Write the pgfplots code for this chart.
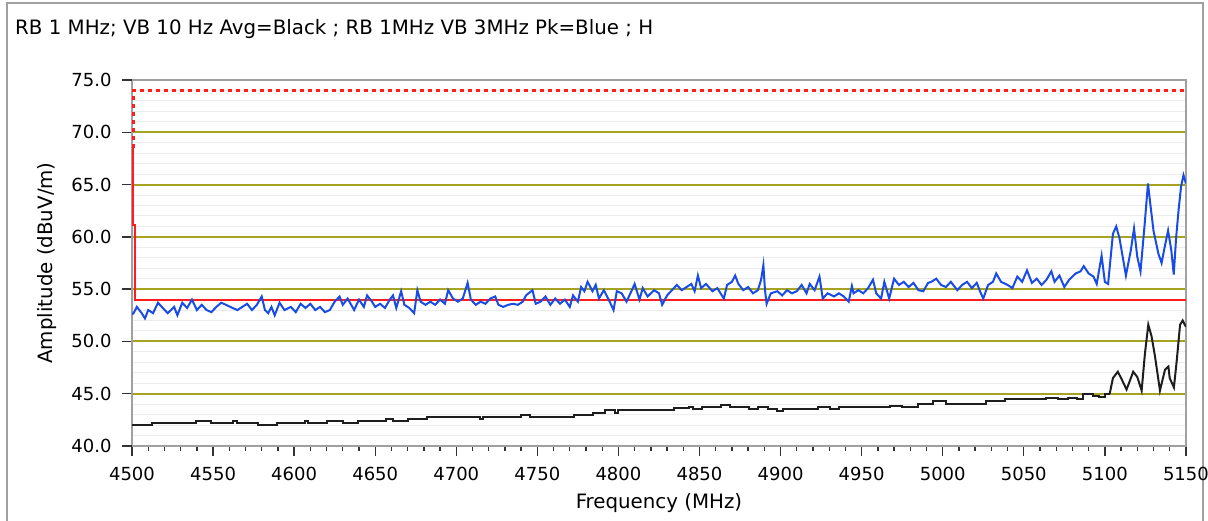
\documentclass[border=0pt]{standalone}
\usepackage{fontspec}
\setmainfont{DejaVu Sans}
\usepackage{pgfplots}
\pgfplotsset{compat=1.18}

\definecolor{pkblue}{RGB}{25,75,230}
\definecolor{avgblack}{RGB}{30,30,30}
\definecolor{limred}{RGB}{255,30,30}
\definecolor{gridolive}{RGB}{168,162,35}
\definecolor{gridlight}{RGB}{236,236,236}
\definecolor{framegray}{RGB}{160,160,160}

\newcommand{\tickfont}{\fontsize{18}{21}\selectfont}
\newcommand{\labelfont}{\fontsize{19.8}{23}\selectfont}

\begin{document}
\begin{tikzpicture}
\useasboundingbox (0pt,0pt) rectangle (1208pt,521pt);
\draw[framegray, line width=1.5pt] (7pt,-2pt) -- (7pt,518pt) -- (1203pt,518pt) -- (1203pt,-2pt);
\node[anchor=base west, font=\labelfont, inner sep=0pt] at (15pt,486pt)
  {RB 1 MHz; VB 10 Hz Avg=Black ; RB 1MHz VB 3MHz Pk=Blue ; H};

\begin{axis}[
  at={(132pt,75pt)}, anchor=south west,
  scale only axis, width=1054pt, height=366pt,
  xmin=4500, xmax=5150, ymin=40, ymax=75,
  xtick distance=50, minor x tick num=4,
  ytick={45,50,55,60,65,70},
  minor ytick={41,42,...,74},
  extra y ticks={40,75},
  extra y tick labels={40.0,75.0},
  extra y tick style={grid=none},
  tick pos=left,
  ymajorgrids, yminorgrids,
  minor grid style={draw=gridlight, line width=1pt},
  major grid style={draw=gridolive, line width=2pt},
  tick align=outside,
  major tick length=10pt, minor tick length=5pt,
  tick style={black!80, line width=1.4pt},
  minor y tick style={draw=none},
  axis line style={draw=framegray, line width=1.5pt},
  scaled x ticks=false,
  /pgf/number format/assume math mode=true,
  xticklabel style={/pgf/number format/1000 sep={}, yshift=-8pt},
  yticklabel style={/pgf/number format/fixed, /pgf/number format/fixed zerofill,
    /pgf/number format/precision=1, xshift=-7pt},
  tick label style={font=\tickfont},
  label style={font=\labelfont},
  xlabel={Frequency (MHz)},
  ylabel={Amplitude (dBuV/m)},
  xlabel style={at={(axis description cs:0.5,-0.1557)}, anchor=center},
  ylabel style={at={(axis description cs:-0.0806,0.5)}, anchor=center},
  clip=true,
]

% limit lines
\addplot[limred, line width=2pt, sharp plot] coordinates {
(4500.8,68.5) (4500.8,61.1) (4501.8,61.1) (4501.8,54) (5150,54)};
\addplot[limred, line width=3pt, dash pattern=on 4pt off 4pt, sharp plot] coordinates {
(4500.8,68.5) (4500.8,74) (5150,74)};

% average (black), stepped part
\addplot[avgblack, line width=2pt, const plot] coordinates {
(4500,42.0) (4512.3,42.2) (4539.3,42.4) (4548.9,42.2) (4562.4,42.4) (4565,42.2)
(4577.8,42.0) (4589.4,42.2) (4606.7,42.4) (4608.7,42.2) (4620.2,42.4) (4629.9,42.2)
(4639.5,42.4) (4656.9,42.6) (4660.7,42.4) (4670.3,42.6) (4681.9,42.8) (4714.7,42.6)
(4716.6,42.8) (4739.7,43.0) (4745.5,42.8) (4772.5,43.0) (4784.1,43.2) (4791.8,43.4)
(4797.6,43.2) (4799.5,43.4) (4834.2,43.6) (4843.8,43.7) (4845.8,43.5) (4851.5,43.7)
(4863.1,43.9) (4868.9,43.7) (4880.4,43.5) (4886.2,43.7) (4892.0,43.5) (4897.8,43.3)
(4901.6,43.5) (4922.9,43.7) (4930.6,43.5) (4936.3,43.7) (4967.2,43.8) (4974.9,43.7)
(4984.5,44.0) (4994.2,44.3) (5001.9,44.0) (5026.9,44.3) (5038.5,44.5) (5063.6,44.6)
(5071.3,44.5) (5077.1,44.6) (5082.8,44.5) (5086.7,45.0) (5092.5,44.8) (5096.3,44.7)
(5100.2,45.0) (5103,45.0)};
% average (black), oscillating part
\addplot[avgblack, line width=2pt, sharp plot] coordinates {
(5103,45.0) (5105,46.5) (5108,47.1) (5110,46.5) (5113.4,45.4) (5117.5,47.1)
(5120,46.6) (5122.7,45.3) (5124.7,48.8) (5126.8,51.6) (5128.8,50.5) (5130.9,48.6)
(5134,45.3) (5137.1,47.3) (5139.2,47.6) (5140,46.5) (5142.6,45.6) (5144.3,48.1)
(5146.4,51.6) (5148,52.0) (5150,51.4)};

% peak (blue)
\addplot[pkblue, line width=2pt, sharp plot] coordinates {
(4500,52.6) (4501,52.7) (4503,53.3) (4506,52.7) (4508,52.2) (4510,53.0) (4513,52.7)
(4516,53.7) (4519,53.2) (4522,52.7) (4526,53.3) (4528,52.5) (4531,53.7) (4534,53.2)
(4537,54.0) (4540,53.0) (4543,53.5) (4546,53.0) (4549,52.8) (4552,53.3) (4555,53.7)
(4558,53.5) (4562,53.2) (4565,53.0) (4568,53.3) (4571,53.6) (4574,53.0) (4577,53.5)
(4580,54.3) (4582,53.0) (4584,52.7) (4586,53.3) (4588,52.5) (4591,53.7) (4594,53.0)
(4598,53.3) (4601,52.8) (4604,53.6) (4607,53.2) (4610,53.6) (4613,53.0) (4616,53.3)
(4619,52.8) (4622,53.0) (4625,53.8) (4628,54.3) (4630,53.5) (4633,54.1) (4637,53.0)
(4640,54.0) (4643,53.3) (4645,54.4) (4648,53.8) (4650,53.3) (4653,53.6) (4656,53.2)
(4659,54.0) (4661,54.4) (4663,53.2) (4666,54.8) (4668,53.5) (4671,53.2) (4674,52.7)
(4676,54.9) (4678,53.8) (4681,53.5) (4684,53.8) (4687,53.5) (4690,54.0) (4693,53.6)
(4695,54.9) (4698,54.1) (4701,53.8) (4704,54.1) (4707,55.6) (4709,54.0) (4712,53.5)
(4715,53.8) (4718,53.6) (4721,54.1) (4724,54.3) (4726,53.5) (4729,53.3) (4732,53.5)
(4735,53.6) (4738,53.5) (4741,53.8) (4743,54.4) (4747,54.9) (4749,53.6) (4752,53.8)
(4755,54.3) (4758,53.5) (4761,54.1) (4764,53.6) (4767,54.0) (4770,53.3) (4772,54.4)
(4775,53.8) (4777,55.2) (4779,54.8) (4781,55.7) (4784,54.8) (4786,55.4) (4788,54.1)
(4791,54.9) (4794,54.0) (4797,53.0) (4799,54.8) (4802,54.6) (4805,53.8) (4808,54.8)
(4810,55.5) (4813,54.0) (4815,55.1) (4818,54.3) (4822,54.9) (4825,54.6) (4827,53.5)
(4830,54.4) (4833,54.9) (4836,55.4) (4839,54.9) (4842,55.2) (4845,55.5) (4847,54.8)
(4849,56.3) (4851,55.1) (4854,55.5) (4858,54.8) (4861,55.1) (4865,54.1) (4867,55.4)
(4870,55.7) (4872,56.3) (4874,55.5) (4877,54.9) (4880,55.2) (4883,54.6) (4886,54.9)
(4888,55.9) (4889.4,57.3) (4890.4,54.9) (4891.4,53.6) (4894,54.6) (4898,54.8)
(4901,54.4) (4904,54.9) (4907,54.6) (4910,54.8) (4913,55.4) (4916,54.6) (4918,55.5)
(4921,54.9) (4924,56.2) (4926,54.1) (4929,54.6) (4933,54.3) (4936,54.6) (4939,54.3)
(4942,53.8) (4944,55.3) (4945,54.6) (4948,54.9) (4951,54.6) (4954,55.1) (4957,55.9)
(4959,54.6) (4962,54.1) (4964,55.7) (4967,54.1) (4970,56.0) (4973,55.4) (4976,55.7)
(4979,55.2) (4982,55.6) (4985,54.9) (4988,54.8) (4991,55.6) (4993,55.7) (4996,56.0)
(4999,55.4) (5002,55.2) (5005,55.7) (5009,54.9) (5012,55.4) (5015,55.7) (5018,55.1)
(5021,55.6) (5023,54.8) (5025,54.1) (5028,55.4) (5031,55.7) (5033,56.5) (5036,55.7)
(5040,55.4) (5043,55.1) (5046,56.2) (5049,55.7) (5052,56.8) (5055,55.6) (5058,56.0)
(5061,55.4) (5064,55.9) (5067,56.7) (5069,55.7) (5072,56.3) (5075,55.2) (5078,55.9)
(5082,56.5) (5085,56.7) (5087,57.2) (5090,56.5) (5093,56.2) (5095,55.5) (5098,58.2)
(5100,55.7) (5102,55.5) (5105,60.3) (5107,61.0) (5109,59.9) (5111,58.1) (5113,56.3)
(5116,58.7) (5118,60.8) (5120,58.1) (5122,56.7) (5124.5,61.1) (5126.6,65.1) (5128,63.2)
(5130,60.6) (5133,58.4) (5135,57.5) (5137,59.1) (5139,60.6) (5141,58.7) (5142.5,56.4)
(5144,60.0) (5145.5,62.6) (5147,64.8) (5148.5,65.9) (5150,65.1)};

\end{axis}
\end{tikzpicture}
\end{document}
